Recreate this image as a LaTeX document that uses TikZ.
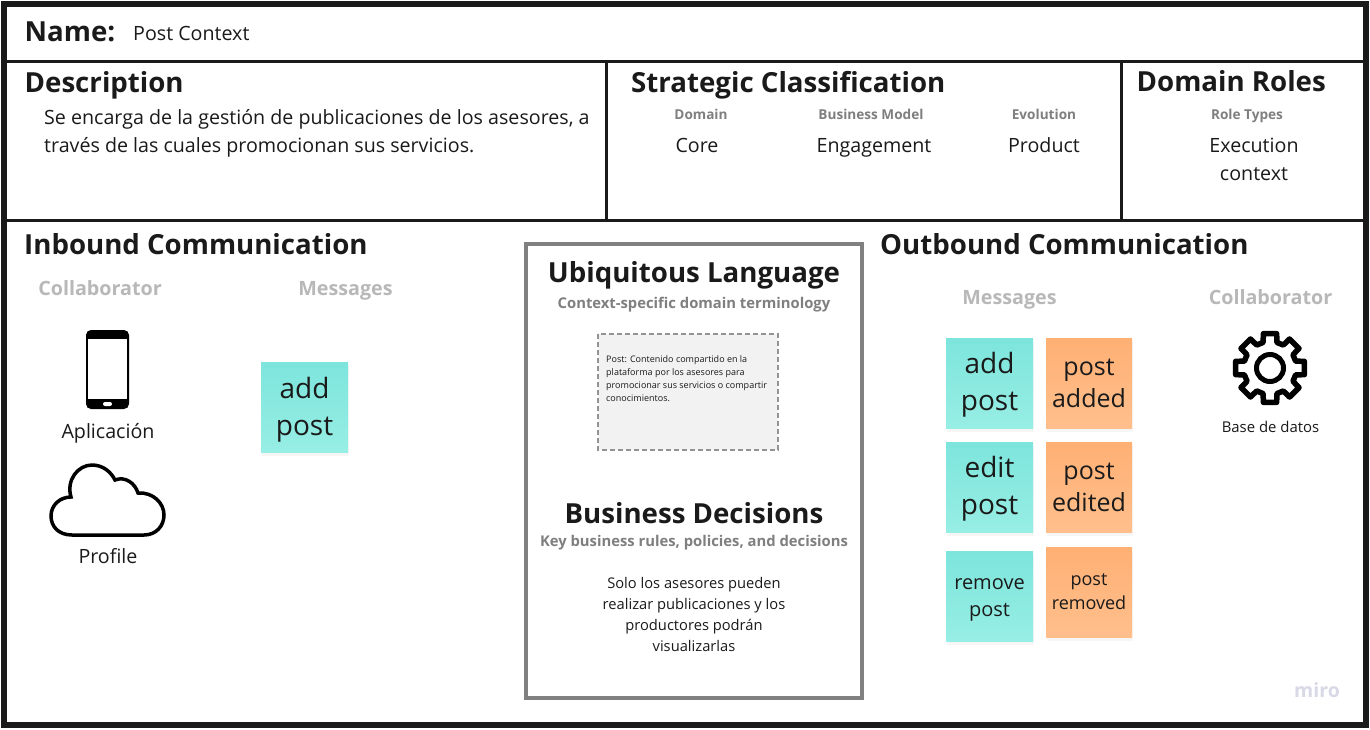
\documentclass[tikz,border=0pt]{standalone}
\usepackage{fontspec}
\setmainfont{Open Sans}
\usetikzlibrary{shadows}
\definecolor{framecol}{HTML}{1A1A1A}
\definecolor{boxgray}{HTML}{808080}
\definecolor{headgray}{HTML}{B8B8B8}
\definecolor{subgray}{HTML}{7F7F7F}
\definecolor{inkcol}{HTML}{1A1A1A}
\definecolor{mirocol}{HTML}{D8D8E6}
\definecolor{stickyteal}{HTML}{7DE5DC}
\definecolor{stickytealb}{HTML}{97EEE4}
\definecolor{stickyor}{HTML}{FFB074}
\definecolor{stickyorb}{HTML}{FFBF8C}
\tikzset{
  title/.style={anchor=base west,font=\fontsize{27.65}{34}\selectfont\bfseries,text=inkcol,inner sep=0pt},
  smallhead/.style={anchor=base,font=\fontsize{13.6}{17}\selectfont\bfseries,text=subgray,inner sep=0pt},
  grayhead/.style={anchor=base,font=\fontsize{19.7}{24}\selectfont\bfseries,text=headgray,inner sep=0pt},
  body/.style={anchor=base,font=\fontsize{19.65}{28}\selectfont,text=inkcol,inner sep=0pt,align=center},
  sticky/.style={minimum height=90,inner sep=0pt,
    drop shadow={opacity=.07,shadow xshift=1,shadow yshift=4}},
  event/.style={sticky,minimum width=87,top color=stickyteal,bottom color=stickytealb},
  result/.style={sticky,minimum width=86,top color=stickyor,bottom color=stickyorb},
  stickytext/.style={inner sep=0pt,align=center,text=inkcol},
}
\begin{document}
\begin{tikzpicture}[x=1pt,y=-1pt]
\useasboundingbox (0,0) rectangle (1370,729);
\fill[white] (0,0) rectangle (1370,729);
\path
(606,61) coordinate (T1)
(606,220) coordinate (B1)
(1121,61) coordinate (T2)
(1121,220) coordinate (B2)
(4,61) coordinate (L1)
(1366,61) coordinate (R1)
(4,220) coordinate (L2)
(1366,220) coordinate (R2)
(1270,368) coordinate (G)
;
\draw[framecol,line width=6] (4,4) rectangle (1366,725);
\draw[framecol,line width=3] (L1)--(R1) (L2)--(R2) (T1)--(B1) (T2)--(B2);

% top row
\node[title] (name) at (24.5,41) {Name:};
\node[anchor=base west,inner sep=0pt,text=inkcol,font=\fontsize{19.65}{24}\selectfont] (namev) at (133,40) {Post Context};
\node[title] (desc) at (24.5,92) {Description};
\node[body,anchor=base west,align=left] (descv) at (44,152) {Se encarga de la gestión de publicaciones de los asesores, a\\través de las cuales promocionan sus servicios.};
\node[title] (strat) at (631,92) {Strategic Classification};
\node[title] (roles) at (1136.5,91) {Domain Roles};
\foreach \n/\x/\X/\h/\v in {dom/701/697/Domain/Core, model/871/874/Business Model/Engagement, evo/1044/1044/Evolution/Product} {
\node[smallhead] (\n h) at (\x,119) {\h};
\node[body] (\n v) at (\X,152) {\v};
}
\node[smallhead] (typeh) at (1247,119) {Role Types};
\node[body] (typev) at (1254,180) {Execution\\context};

% inbound
\node[title] (inb) at (24,254) {Inbound Communication};
\node[grayhead] (inc) at (100,295) {Collaborator};
\node[grayhead] (inm) at (345.5,295) {Messages};
\fill[black,rounded corners=5] (86,330) rectangle (129,409);
\fill[white] (88,339) rectangle (127,399);
\fill[white,rounded corners=2] (103,402) rectangle (112,406);
\node[body] (app) at (108,438) {Aplicación};
\draw[black,line width=3.5] (72,535)
  .. controls (58,535) and (51,526) .. (51,516)
  .. controls (51,505) and (60,497) .. (71,497)
  .. controls (66,480) and (78,465) .. (92,465)
  .. controls (103,465) and (111,472) .. (115,480)
  .. controls (125,476) and (135,483) .. (138,493)
  .. controls (153,492) and (164,503) .. (164,515)
  .. controls (164,526) and (156,535) .. (144,535)
  -- cycle;
\node[body] (prof) at (108,563) {Profile};

% center
\draw[boxgray,line width=4] (526,244) rectangle (862,698);
\node[title,anchor=base] (ubi) at (694,282) {Ubiquitous Language};
\node[smallhead,font=\fontsize{14.8}{18}\selectfont\bfseries] (ubis) at (694,308) {Context-specific domain terminology};
\draw[boxgray!85,dash pattern=on 5 off 3,line width=1.5,fill=black!5] (598,334) rectangle (778,450);
\node[anchor=north west,inner sep=0pt,align=left,text=inkcol,font=\fontsize{9}{13}\selectfont] (term) at (606,355) {Post: Contenido compartido en la\\plataforma por los asesores para\\promocionar sus servicios o compartir\\conocimientos.};
\node[title,anchor=base] (bus) at (694,523) {Business Decisions};
\node[smallhead,font=\fontsize{14.8}{18}\selectfont\bfseries] (buss) at (694,546) {Key business rules, policies, and decisions};
\node[anchor=base,inner sep=0pt,align=center,text=inkcol,font=\fontsize{14.7}{21}\selectfont] (busv) at (694,651) {Solo los asesores pueden\\realizar publicaciones y los\\productores podrán\\visualizarlas};

% outbound
\node[title] (outb) at (880,254) {Outbound Communication};
\node[grayhead] (outm) at (1009.5,304) {Messages};
\node[grayhead] (outc) at (1270.5,304) {Collaborator};

% stickies
\foreach \nm/\kind/\px/\py/\fs/\ls/\dy/\txt in {
  inadd/event/304.5/407/28/37/-3/add\\post,
  addp/event/989.5/383/28/37/-2/add\\post,
  editp/event/989.5/487/28/37/-2/edit\\post,
  remp/event/989.5/596/20/27/-4/remove\\post,
  added/result/1089/383/25/32/0/post\\added,
  edited/result/1089/487/25/32/0/post\\edited,
  removed/result/1089/592/18/24/0/post\\removed} {
\node[\kind] (\nm) at (\px,\py) {};
\node[stickytext,font=\fontsize{\fs}{\ls}\selectfont] (\nm t) at ([yshift=\dy]\nm) {\txt};
}

\draw[black,line width=5.5,line join=round,shift={(G)},yscale=-1] (-11:35)
\foreach \a in {0,45,...,315} { -- (\a-11:35) -- (\a+11:35) -- (\a+15:26.5) -- (\a+30:26.5) } -- cycle;
\draw[black,line width=5] (G) circle (13.5);
\node[anchor=base,inner sep=0pt,text=inkcol,font=\fontsize{14.9}{18}\selectfont] (base) at (1270.5,432) {Base de datos};
\node[anchor=base,inner sep=0pt,text=mirocol,font=\fontsize{19.5}{22}\selectfont\bfseries] (miro) at (1317,697) {miro};
\end{tikzpicture}
\end{document}
